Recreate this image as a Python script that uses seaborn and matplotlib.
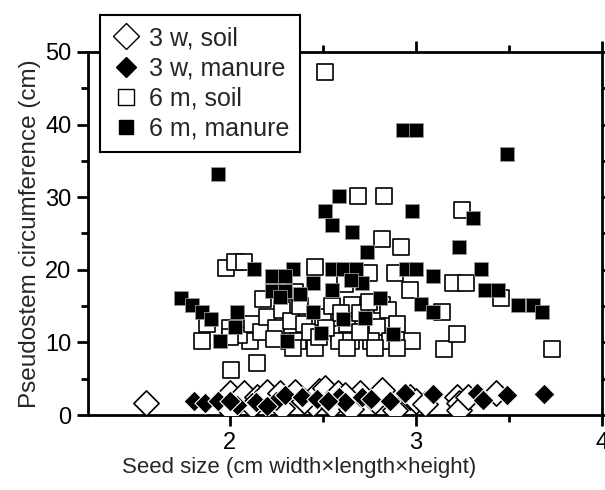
import numpy as np
import pandas as pd
import matplotlib
matplotlib.use("Agg")
import matplotlib.pyplot as plt
from matplotlib.ticker import MultipleLocator, FixedLocator
from matplotlib.lines import Line2D
import seaborn as sns

sns.set_style("ticks")
plt.rcParams['font.family'] = ['Liberation Sans', 'DejaVu Sans']

# 3 weeks, soil (open diamonds)
w3_soil_x = [1.55, 2.00, 2.08, 2.00, 2.15, 2.20, 2.27, 2.28, 2.35, 2.45, 2.48, 2.51, 2.55, 2.58, 2.65,
             2.70, 2.78, 2.82, 2.89, 2.97, 3.00, 3.05, 3.22, 3.23, 3.23, 3.28, 3.43, 2.40, 2.62, 2.12]
w3_soil_y = [1.6, 3.0, 3.0, 0.7, 2.5, 3.2, 3.0, 1.0, 3.2, 1.5, 3.3, 3.7, 1.2, 3.0, 0.8,
             3.0, 2.0, 3.4, 0.7, 2.5, 2.0, 1.5, 2.5, 1.6, 0.7, 2.5, 3.0, 1.9, 2.8, 1.2]

# 3 weeks, manure (filled diamonds)
w3_man_x = [1.81, 1.87, 1.94, 2.04, 2.14, 2.25, 2.30, 2.39, 2.47, 2.59, 2.62, 2.71, 2.76, 2.86,
            2.94, 3.09, 3.33, 3.36, 3.49, 3.69, 2.20, 2.53, 2.00]
w3_man_y = [1.9, 1.6, 1.9, 1.4, 1.8, 2.0, 2.7, 2.5, 2.2, 2.5, 1.8, 2.5, 2.2, 1.9,
            3.0, 2.9, 3.0, 2.1, 2.8, 2.9, 1.3, 1.9, 2.0]

# 6 months, soil (open squares)
m6_soil_x = [2.51, 2.69, 2.83, 2.82, 2.92, 3.25, 3.20, 3.27, 3.46, 3.73, 3.15, 3.22, 2.98, 3.14,
             2.46, 2.89, 2.97, 2.82, 2.66, 2.67, 2.59, 2.79, 1.98, 2.03, 2.08, 2.01, 2.15,
             1.85, 2.11, 2.32, 2.37, 2.59, 2.65, 2.76, 2.86,
             2.34, 2.46, 2.63, 2.78, 2.90,
             1.88, 2.00, 2.05, 2.12, 2.17, 2.20, 2.25, 2.28, 2.33, 2.38, 2.40, 2.43, 2.50, 2.52,
             2.55, 2.60, 2.63, 2.70, 2.75, 2.85, 2.90, 2.18, 2.35, 2.62, 2.75, 2.00, 2.24, 2.48, 2.70]
m6_soil_y = [47.2, 30.2, 30.2, 24.2, 23.1, 28.2, 18.2, 18.2, 16.1, 9.1, 9.1, 11.2, 10.2, 14.2,
             20.4, 19.6, 17.2, 15.1, 15.1, 12.1, 11.2, 12.1, 20.2, 21.1, 21.1, 6.2, 7.2,
             10.2, 10.2, 10.2, 10.2, 10.2, 10.2, 10.2, 10.2,
             9.2, 9.2, 9.2, 9.2, 9.2,
             12.5, 12.0, 11.0, 12.5, 11.5, 13.5, 12.0, 14.5, 13.0, 15.0, 12.5, 11.5, 13.5, 12.0,
             15.0, 14.0, 12.5, 14.0, 15.5, 14.5, 12.5, 16.0, 17.0, 18.0, 19.5, 10.8, 10.5, 10.8, 11.5]

# 6 months, manure (filled squares)
m6_man_x = [1.94, 2.51, 2.55, 2.59, 2.66, 2.74, 2.93, 3.00, 2.98, 3.49, 3.31, 3.23, 3.35, 3.37,
            3.44, 3.55, 3.63, 3.68, 3.03, 3.09, 2.88, 3.09, 2.95, 3.00, 2.81, 2.73, 2.61, 2.49,
            2.45, 2.55, 2.45, 2.55, 2.61, 2.68, 2.71, 2.65, 2.13, 2.23, 2.34, 2.30, 2.23, 2.30,
            2.38, 2.27, 1.74, 1.80, 1.85, 1.90, 2.04, 2.03, 1.95, 2.31]
m6_man_y = [33.2, 28.1, 26.2, 30.2, 25.2, 22.5, 39.2, 39.2, 28.1, 36.0, 27.1, 23.1, 20.1, 17.2,
            17.2, 15.1, 15.1, 14.2, 15.3, 14.2, 11.2, 19.1, 20.1, 20.1, 16.1, 13.3, 13.2, 11.3,
            18.2, 17.2, 14.2, 20.1, 20.1, 20.1, 18.2, 18.6, 20.1, 19.1, 20.1, 19.1, 17.1, 17.1,
            16.7, 16.3, 16.1, 15.1, 14.2, 13.2, 14.2, 12.1, 10.2, 10.2]

df = pd.concat([
    pd.DataFrame({'size': m6_soil_x, 'circ': m6_soil_y, 'group': '6 m, soil'}),
    pd.DataFrame({'size': m6_man_x, 'circ': m6_man_y, 'group': '6 m, manure'}),
    pd.DataFrame({'size': w3_soil_x, 'circ': w3_soil_y, 'group': '3 w, soil'}),
    pd.DataFrame({'size': w3_man_x, 'circ': w3_man_y, 'group': '3 w, manure'}),
])

fig = plt.figure(figsize=(6.05, 4.9), dpi=100)
ax = fig.add_axes([0.1455, 0.153, 0.8495, 0.741])

#draw each group with its own marker style
styles = {
    '6 m, soil': dict(marker='s', s=130, color='white', edgecolor='black', linewidth=1.2),
    '6 m, manure': dict(marker='s', s=95, color='black', edgecolor='#999999', linewidth=0.6),
    '3 w, soil': dict(marker='D', s=165, color='white', edgecolor='black', linewidth=1.2),
    '3 w, manure': dict(marker='D', s=115, color='black', edgecolor='white', linewidth=0.8),
}
for grp, st in styles.items():
    sub = df[df['group'] == grp]
    sns.scatterplot(data=sub, x='size', y='circ', ax=ax, legend=False, zorder=3, **st)

ax.set_xlim(1.24, 4.0)
ax.set_ylim(0, 50)
ax.xaxis.set_major_locator(MultipleLocator(1))
ax.xaxis.set_minor_locator(FixedLocator([2.5, 3.5]))
ax.yaxis.set_major_locator(MultipleLocator(10))
ax.yaxis.set_minor_locator(MultipleLocator(5))
ax.tick_params(which='both', direction='out', width=2, top=True, right=True,
               labeltop=False, labelright=False, labelsize=17, colors='black')
ax.tick_params(which='major', length=8, pad=4)
ax.tick_params(which='minor', length=5)
for sp in ax.spines.values():
    sp.set_linewidth(2)
    sp.set_color('black')

ax.set_xlabel("Seed size (cm width×length×height)", fontsize=16)
ax.xaxis.set_label_coords(0.41, -0.115)
ax.set_ylabel("Pseudostem circumference (cm)", fontsize=17.5, labelpad=3)

handles = [
    Line2D([], [], ls='none', marker='D', markersize=13, markerfacecolor='white',
           markeredgecolor='black', markeredgewidth=1.0),
    Line2D([], [], ls='none', marker='D', markersize=10.5, markerfacecolor='black',
           markeredgecolor='black'),
    Line2D([], [], ls='none', marker='s', markersize=11, markerfacecolor='white',
           markeredgecolor='black', markeredgewidth=1.0),
    Line2D([], [], ls='none', marker='s', markersize=9.5, markerfacecolor='black',
           markeredgecolor='black'),
]
labels = ['3 w, soil', '3 w, manure', '6 m, soil', '6 m, manure']
leg = ax.legend(handles, labels, loc='upper left', bbox_to_anchor=(0.023, 1.102),
                frameon=True, fancybox=False, fontsize=18, borderpad=0.45,
                handletextpad=0.3, labelspacing=0.25, handlelength=1.2, borderaxespad=0)
leg.get_frame().set_edgecolor('black')
leg.get_frame().set_linewidth(1.5)
leg.get_frame().set_alpha(1)
leg.set_zorder(10)

plt.savefig('out.png', dpi=100)
